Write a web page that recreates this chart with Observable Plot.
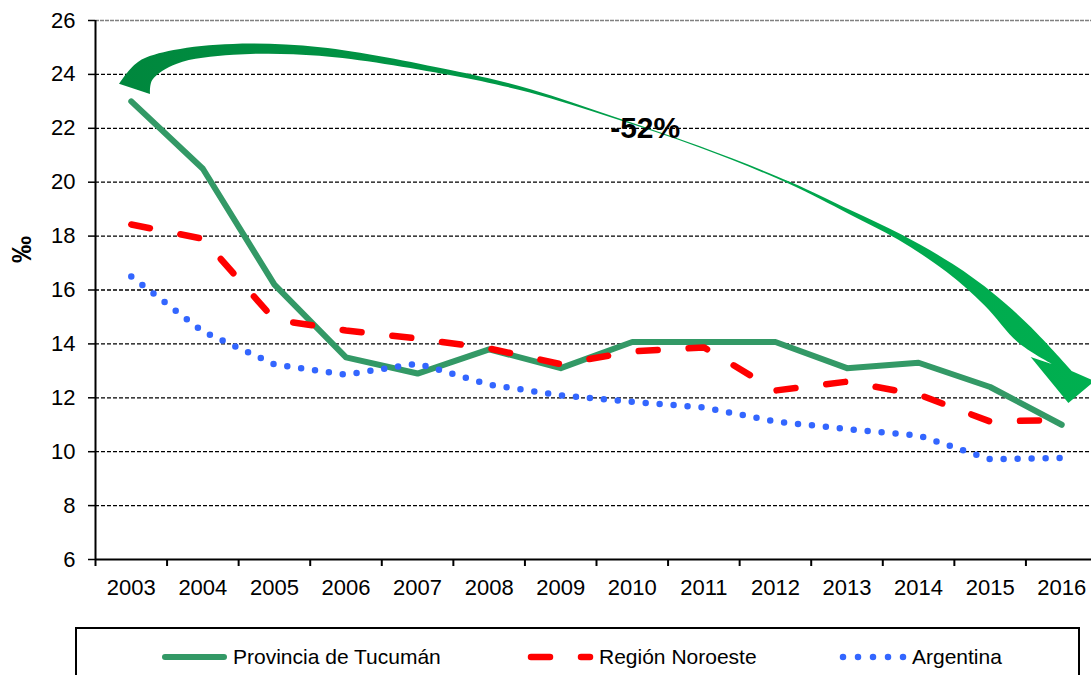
<!DOCTYPE html>
<html><head><meta charset="utf-8">
<script src="https://cdn.jsdelivr.net/npm/d3@7"></script>
<script src="https://cdn.jsdelivr.net/npm/@observablehq/plot@0.6"></script>
<style>
html,body{margin:0;padding:0;background:#fff;overflow:hidden;}
#wrap{position:relative;width:1091px;height:675px;overflow:hidden;font-family:"Liberation Sans",Arial,sans-serif;}
#legend{position:absolute;left:0;top:627px;}
</style></head><body><div id="wrap"></div>
<script>
// ---- data ----
const years = [2003,2004,2005,2006,2007,2008,2009,2010,2011,2012,2013,2014,2015,2016];
const tucuman   = [23.0,20.5,16.2,13.5,12.9,13.8,13.1,14.07,14.07,14.07,13.1,13.3,12.4,11.0];
const noroeste  = [18.43,17.9,14.9,14.5,14.2,13.83,13.25,13.72,13.87,12.27,12.6,12.12,11.12,11.18];
const argentina = [16.5,14.46,13.24,12.86,13.27,12.49,12.09,11.85,11.64,11.12,10.84,10.6,9.72,9.77];
const seriesNames = ["Provincia de Tucumán","Región Noroeste","Argentina"];
const yTicks = [6,8,10,12,14,16,18,20,22,24,26];
const yLabel = "‰";
const changeLabel = "-52%";
const changePos = [2010.18, 22];
// annotation arrow (data coordinates: year, value)
const arrowTail = [[2002.835,23.63],[2003.268,23.25]];      // outer, inner corners
const arrowCenter = [[2003.20,24.11],[2003.62,24.63],[2004.43,24.91],[2005.64,24.83],[2007.46,24.05],
  [2008.58,23.37],[2009.73,22.40],[2010.95,21.29],[2012.21,19.95],[2013.04,18.88],[2013.74,17.95],
  [2014.44,16.80],[2015.00,15.61],[2015.49,14.31]];
const arrowWidths = [23,14,11,8.5,5,3.5,1.6,1.2,2.2,4,6,10,15,20];
const arrowBase = [[2016.145,12.98],[2015.866,13.24]];      // outer, inner shaft end
const arrowHead = [[2016.466,12.60],[2016.10,11.79],[2015.573,13.50]]; // right barb, tip, left barb

const colors = ["#339966","#FF0000","#3366FF"];

const data = years.flatMap((yr,i)=>[
  {year:yr, value:tucuman[i], series:seriesNames[0]},
  {year:yr, value:noroeste[i], series:seriesNames[1]},
  {year:yr, value:argentina[i], series:seriesNames[2]}
]);
const boundaries = years.map(y=>y-0.5).concat([years[years.length-1]+0.5]);

function arrowMark(index, scales, values, dimensions, context) {
  const X = scales.x, Y = scales.y;
  const P = arrowCenter.map(([a,b]) => [X(a), Y(b)]);
  const n = P.length;
  const outer = [[X(arrowTail[0][0]), Y(arrowTail[0][1])]];
  const inner = [[X(arrowTail[1][0]), Y(arrowTail[1][1])]];
  const tailMid = [(outer[0][0]+inner[0][0])/2,(outer[0][1]+inner[0][1])/2];
  const baseMid = [(X(arrowBase[0][0])+X(arrowBase[1][0]))/2,(Y(arrowBase[0][1])+Y(arrowBase[1][1]))/2];
  const all = [tailMid, ...P, baseMid];
  for (let i=0;i<n;i++){
    const p0 = all[i], p1 = all[i+2];
    let dx=p1[0]-p0[0], dy=p1[1]-p0[1]; const L=Math.hypot(dx,dy); dx/=L; dy/=L;
    const nx=dy, ny=-dx, h=arrowWidths[i]/2;
    outer.push([P[i][0]+nx*h, P[i][1]+ny*h]);
    inner.push([P[i][0]-nx*h, P[i][1]-ny*h]);
  }
  outer.push([X(arrowBase[0][0]), Y(arrowBase[0][1])]);
  inner.push([X(arrowBase[1][0]), Y(arrowBase[1][1])]);
  const line = d3.line().curve(d3.curveCatmullRom.alpha(0.5));
  const head = arrowHead.map(([a,b])=>[X(a),Y(b)]);
  const d = line(outer) + head.map(p=>"L"+p[0]+","+p[1]).join("") + line(inner.slice().reverse()).replace(/^M/,"L") + "Z";
  const g = d3.create("svg:g");
  const grad = g.append("defs").append("linearGradient").attr("id","arrowGrad").attr("x1","0").attr("x2","1").attr("y1","0").attr("y2","0");
  grad.append("stop").attr("offset","0").attr("stop-color","#00873D");
  grad.append("stop").attr("offset","0.5").attr("stop-color","#009E4A");
  grad.append("stop").attr("offset","1").attr("stop-color","#00B050");
  g.append("path").attr("d", d).attr("fill","url(#arrowGrad)");
  return g.node();
}

const plot = Plot.plot({
  width: 1097, height: 610,
  marginLeft: 95, marginRight: 0, marginTop: 20, marginBottom: 51,
  style: {fontFamily: '"Liberation Sans", Arial, sans-serif', fontSize: "22px", color: "#000", background: "transparent", maxWidth: "none", overflow: "visible"},
  x: {domain: [2002.5, 2016.5], label: null},
  y: {domain: [6, 26], label: null},
  marks: [
    Plot.ruleY(yTicks.filter(d=>d>6 && d<26), {stroke:"#000", strokeWidth:1.3, strokeDasharray:"4,2"}),
    Plot.ruleY([26], {stroke:"#808080", strokeWidth:1.5, strokeDasharray:"4,1"}),
    Plot.axisY({ticks: yTicks, tickSize: 7, tickPadding: 13, tickFormat: d=>String(d), fontSize: 22, stroke:"#000", strokeWidth:1.5, label: null}),
    Plot.axisX({ticks: years, tickSize: 0, tickPadding: 20, tickFormat: d=>String(d), fontSize: 22, label: null}),
    Plot.axisX({ticks: boundaries, tickSize: 7, tickFormat: ()=>"", stroke:"#000", strokeWidth:2, label: null}),
    Plot.ruleX([2002.5], {stroke:"#000", strokeWidth:2}),
    Plot.ruleY([6], {stroke:"#000", strokeWidth:2}),
    Plot.text([yLabel], {text: d=>d, frameAnchor:"left", y: ()=>17, dx:-73, rotate:-90, fontSize:27, fontWeight:"bold", fill:"#000"}),
    arrowMark,
    Plot.line(data.filter(d=>d.series===seriesNames[0]), {x:"year", y:"value", stroke: colors[0], strokeWidth:6, strokeLinejoin:"round", strokeLinecap:"round"}),
    Plot.line(data.filter(d=>d.series===seriesNames[1]), {x:"year", y:"value", stroke: colors[1], strokeWidth:6.5, strokeDasharray:"19,31", strokeLinecap:"round", strokeLinejoin:"round"}),
    Plot.line(data.filter(d=>d.series===seriesNames[2]), {x:"year", y:"value", stroke: colors[2], strokeWidth:6.5, strokeDasharray:"0,14", strokeLinecap:"round", strokeLinejoin:"round"}),
    Plot.text([changeLabel], {text: d=>d, x: ()=>changePos[0], y: ()=>changePos[1], fontSize:30, fontWeight:"bold", fill:"#000", textAnchor:"middle"})
  ]
});
const wrap = document.getElementById("wrap");
wrap.appendChild(plot);

// ---- legend (below the chart) ----
const leg = d3.select(wrap).append("svg").attr("id","legend").attr("width",1091).attr("height",48);
leg.append("rect").attr("x",76).attr("y",1).attr("width",1003).attr("height",80).attr("fill","none").attr("stroke","#000").attr("stroke-width",2);
const items = [
  {x1:165, x2:224, tx:233, dash:null, w:6},
  {x1:531, x2:590, tx:599, dash:"19,31", w:6.5},
  {x1:843, x2:904, tx:912, dash:"0,15", w:6.5}
];
items.forEach((it,i)=>{
  const l = leg.append("line").attr("x1",it.x1).attr("x2",it.x2).attr("y1",30).attr("y2",30)
    .attr("stroke",colors[i]).attr("stroke-width",it.w).attr("stroke-linecap","round");
  if (it.dash) l.attr("stroke-dasharray", it.dash);
  leg.append("text").attr("x",it.tx).attr("y",30).attr("dy","0.35em")
    .attr("font-family",'"Liberation Sans", Arial, sans-serif').attr("font-size",21).attr("fill","#000").text(seriesNames[i]);
});
</script>
</body></html>
